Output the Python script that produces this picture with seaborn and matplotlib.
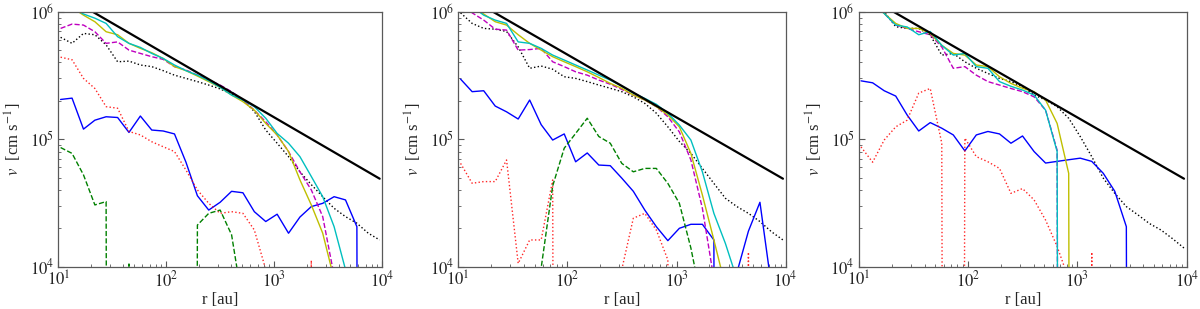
import numpy as np
import pandas as pd
import matplotlib
matplotlib.use("Agg")
import matplotlib.pyplot as plt
import seaborn as sns

sns.set_style("ticks")
plt.rcParams['font.family'] = ['Liberation Serif', 'DejaVu Serif']
plt.rcParams['mathtext.fontset'] = 'stix'

OFF = 1e-30  # value that lies far below the axis (line drops out)

r_au = [10.5, 13.4, 17.1, 21.8, 27.7, 35.4, 45.1, 57.5, 73.3, 93.5, 119, 152, 194, 247,
        315, 402, 512, 653, 833, 1062, 1354, 1726, 2200, 2806, 3577, 4560, 5814, 7413, 9450]

# reference power law (endpoints)
r_pl = [10.5, 9450]
v_pl = [1.4e6, 4.9e4]

# ---------------- panel 1 ----------------
p1_black_dot = [6.3e5, 5.65e5, 6.76e5, 6.6e5, 5.5e5, 4.05e5, 4.1e5, 3.82e5, 3.71e5, 3.45e5, 3.18e5,
                3.0e5, 2.83e5, 2.66e5, 2.48e5, 2.26e5, 2.03e5, 1.65e5, 1.18e5, 9.3e4, 7.3e4, 5.55e4,
                4.4e4, 3.54e4, 2.87e4, 2.47e4, 2.19e4, 1.83e4, 1.62e4]
p1_blue = [2.05e5, 2.1e5, 1.2e5, 1.41e5, 1.5e5, 1.48e5, 1.13e5, 1.52e5, 1.18e5, 1.16e5, 1.1e5, 6.6e4,
           3.6e4, 2.78e4, 3.2e4, 3.9e4, 3.8e4, 2.7e4, 2.26e4, 2.58e4, 1.83e4, 2.45e4, 2.96e4, 3.14e4,
           3.54e4, 3.34e4, 2.06e4, OFF]
p1_red = [4.4e5, 4.2e5, 3.0e5, 2.5e5, 1.8e5, 1.75e5, 1.15e5, 1.08e5, 9.55e4, 8.73e4, 8.0e4, 5.73e4,
          4.0e4, 3.14e4, 2.62e4, 2.7e4, 2.62e4, 1.94e4, 9.5e3, OFF, OFF, OFF, 1.12e4, OFF]
p1_green = [8.6e4, 7.74e4, 5.25e4, 3.05e4, 3.24e4, OFF, 1.05e4, OFF, OFF, OFF, OFF, OFF, 2.12e4,
            2.62e4, 2.78e4, 1.78e4, 5e3]
p1_mag = [7.4e5, 8.0e5, 7.86e5, 6.97e5, 5.65e5, 5.8e5, 5.0e5, 4.71e5, 4.44e5, 4.23e5, 3.71e5, 3.49e5,
          3.18e5, 2.91e5, 2.66e5, 2.36e5, 2.03e5, 1.69e5, 1.37e5, 1.08e5, 8.0e4, 5.55e4, 4.0e4,
          2.47e4, 8.5e3]
p1_yel = [1.35e6, 1.08e6, 9.4e5, 8.35e5, 6.97e5, 6.6e5, 5.65e5, 5.16e5, 4.77e5, 4.3e5, 3.71e5, 3.45e5,
          3.13e5, 2.83e5, 2.55e5, 2.22e5, 1.97e5, 1.69e5, 1.33e5, 1.08e5, 8.0e4, 4.8e4, 3.05e4,
          1.83e4, 8e3]
p1_cyan = [1.3e6, 1.08e6, 9.6e5, 8.9e5, 8.1e5, 6.37e5, 5.65e5, 5.25e5, 4.71e5, 4.3e5, 3.82e5, 3.45e5,
           3.18e5, 2.88e5, 2.55e5, 2.22e5, 2.03e5, 1.8e5, 1.46e5, 1.11e5, 9.3e4, 7.3e4, 5.1e4, 3.54e4,
           2.06e4, 9.5e3]

# ---------------- panel 2 ----------------
p2_black_dot = [9.8e5, 8.1e5, 7.4e5, 7.3e5, 7.0e5, 5.3e5, 3.6e5, 3.75e5, 3.54e5, 3.09e5, 3.0e5, 2.83e5,
                2.66e5, 2.51e5, 2.36e5, 2.15e5, 1.91e5, 1.6e5, 1.25e5, 9.6e4, 7.74e4, 5.9e4, 4.5e4,
                3.44e4, 2.96e4, 2.62e4, 2.26e4, 1.88e4, 1.62e4]
p2_blue = [2.96e5, 2.36e5, 2.4e5, 1.82e5, 1.64e5, 1.44e5, 2.03e5, 1.3e5, 9.85e4, 1.1e5, 6.65e4, 7.8e4,
           6.27e4, 6.2e4, 4.95e4, 3.9e4, 2.78e4, 2.06e4, 1.6e4, 2.0e4, 2.15e4, 2.15e4, 1.62e4, OFF,
           9e3, 1.9e4, 3.2e4, 7e3]
p2_red = [6.46e4, 4.51e4, 4.65e4, 4.65e4, 6.87e4, 1.06e4, 1.62e4, 1.62e4, 4.79e4, OFF, OFF, OFF, OFF,
          OFF, 9.5e3, 2.4e4, 2.62e4, 1.94e4, 1.13e4, OFF, OFF, OFF, OFF, OFF, OFF, 1.3e4, OFF]
p2_green = [OFF, OFF, OFF, OFF, OFF, OFF, OFF, 9.8e3, 4.3e4, 8.5e4, 1.11e5, 1.46e5, 1.05e5, 9.3e4,
            6.46e4, 5.55e4, 5.9e4, 5.9e4, 4.5e4, 3.14e4, 1.4e4, 5e3]
p2_mag = [1.4e6, 9.8e5, 8.6e5, 7.3e5, 7.18e5, 5.0e5, 5.05e5, 5.16e5, 4.05e5, 3.71e5, 3.38e5, 3.18e5,
          2.91e5, 2.7e5, 2.46e5, 2.22e5, 2.03e5, 1.8e5, 1.5e5, 1.14e5, 6.87e4, 2.87e4, 8e3]
p2_yel = [1.35e6, 1.1e6, 9.6e5, 8.35e5, 7.86e5, 6.6e5, 5.65e5, 5.0e5, 4.44e5, 4.05e5, 3.71e5, 3.38e5,
          3.05e5, 2.74e5, 2.51e5, 2.22e5, 2.03e5, 1.8e5, 1.55e5, 1.25e5, 7.74e4, 3.65e4, 1.62e4, 7e3]
p2_cyan = [1.35e6, 1.1e6, 9.4e5, 8.6e5, 8.1e5, 5.8e5, 5.65e5, 5.16e5, 4.57e5, 4.18e5, 3.82e5, 3.49e5,
           3.18e5, 2.91e5, 2.61e5, 2.3e5, 2.09e5, 1.88e5, 1.6e5, 1.29e5, 9.85e4, 5.55e4, 2.62e4,
           1.52e4, 8e3]

# ---------------- panel 3 ----------------
p3_black_dot = [1.5e6, 1.15e6, 1.0e6, 7.63e5, 7.4e5, 7.4e5, 6.56e5, 4.57e5, 4.71e5, 4.05e5, 3.6e5,
                3.28e5, 3.0e5, 2.83e5, 2.58e5, 2.22e5, 2.03e5, 1.8e5, 1.46e5, 1.05e5, 7.3e4, 4.95e4,
                3.76e4, 2.96e4, 2.55e4, 2.18e4, 1.94e4, 1.66e4, 1.4e4]
p3_blue = [2.87e5, 2.77e5, 2.4e5, 2.18e5, 1.55e5, 1.16e5, 1.35e5, 1.22e5, 1.08e5, 8.1e4, 1.08e5,
           1.15e5, 1.1e5, 9.3e4, 1.06e5, 8.0e4, 6.5e4, 6.7e4, 6.9e4, 7.1e4, 6.7e4, 5.4e4, 3.9e4,
           2.06e4, OFF]
p3_red = [8.7e4, 6.6e4, 9.85e4, 1.25e5, 1.41e5, 2.3e5, 2.5e5, 9.3e4, OFF, 1.02e5, 7.3e4, 6.65e4,
          5.9e4, 3.76e4, 4.1e4, 3.34e4, 2.32e4, 1.44e4, 8e3, OFF, 1.3e4, OFF]
p3_mag = [1.5e6, 1.15e6, 9.7e5, 7.86e5, 7.4e5, 6.97e5, 6.6e5, 5.3e5, 3.6e5, 3.71e5, 3.18e5, 2.83e5,
          2.66e5, 2.5e5, 2.36e5, 2.15e5, 1.69e5, 8.2e4, OFF]
p3_cyan = [1.5e6, 1.15e6, 9.7e5, 7.86e5, 7.6e5, 6.6e5, 7.0e5, 5.45e5, 4.57e5, 4.71e5, 3.71e5, 3.6e5,
           2.83e5, 2.6e5, 2.43e5, 2.22e5, 1.69e5, 8.0e4, OFF]
p3_yel = [1.5e6, 1.15e6, 9.7e5, 8.1e5, 7.4e5, 7.4e5, 6.76e5, 5.45e5, 4.71e5, 4.57e5, 3.82e5, 3.71e5,
          3.09e5, 2.74e5, 2.51e5, 2.36e5, 2.03e5, 1.33e5, 5.4e4, OFF]

x_ticks = [1e1, 1e2, 1e3, 1e4]
x_ticklabels = [r'$10^{1}$', r'$10^{2}$', r'$10^{3}$', r'$10^{4}$']
y_ticks = [1e4, 1e5, 1e6]
y_ticklabels = [r'$10^{4}$', r'$10^{5}$', r'$10^{6}$']

styles = {
    'black_dot': dict(color='k', linestyle=':', lw=1.0),
    'blue': dict(color='b', linestyle='-', lw=1.0),
    'red': dict(color='r', linestyle=':', lw=1.0, alpha=0.85),
    'green': dict(color='g', linestyle='--', lw=1.0),
    'mag': dict(color='m', linestyle='--', lw=1.0),
    'yel': dict(color='y', linestyle='-', lw=1.0),
    'cyan': dict(color='c', linestyle='-', lw=1.0),
}

panels = [
    {'black_dot': p1_black_dot, 'blue': p1_blue, 'red': p1_red, 'green': p1_green,
     'mag': p1_mag, 'yel': p1_yel, 'cyan': p1_cyan},
    {'black_dot': p2_black_dot, 'blue': p2_blue, 'red': p2_red, 'green': p2_green,
     'mag': p2_mag, 'yel': p2_yel, 'cyan': p2_cyan},
    {'black_dot': p3_black_dot, 'blue': p3_blue, 'red': p3_red,
     'mag': p3_mag, 'yel': p3_yel, 'cyan': p3_cyan},
]

fig = plt.figure(figsize=(12, 3.09), dpi=100)
rects = [[0.0486, 0.137, 0.270, 0.825],
         [0.3819, 0.137, 0.2728, 0.825],
         [0.7156, 0.137, 0.2733, 0.825]]

spine_col = '0.35'
for rect, series in zip(rects, panels):
    ax = fig.add_axes(rect)
    ax.set_xscale('log')
    ax.set_yscale('log')
    for name in ['black_dot', 'blue', 'red', 'green', 'mag', 'yel', 'cyan']:
        if name not in series:
            continue
        vals = series[name]
        df = pd.DataFrame({'r': r_au[:len(vals)], 'v': vals})
        sns.lineplot(data=df, x='r', y='v', ax=ax, estimator=None, sort=False,
                     **styles[name])
    dfpl = pd.DataFrame({'r': r_pl, 'v': v_pl})
    sns.lineplot(data=dfpl, x='r', y='v', ax=ax, color='k', lw=1.6, estimator=None, sort=False)
    ax.set_xlim(10, 1e4)
    ax.set_ylim(1e4, 1e6)
    ax.set_xticks(x_ticks)
    ax.set_xticklabels(x_ticklabels)
    ax.set_yticks(y_ticks)
    ax.set_yticklabels(y_ticklabels)
    ax.tick_params(which='both', direction='in', color=spine_col, labelsize=12,
                   top=False, right=False)
    ax.tick_params(which='major', length=4)
    ax.tick_params(which='minor', length=2.5)
    ax.tick_params(axis='x', pad=3)
    ax.tick_params(axis='y', pad=3)
    for s in ax.spines.values():
        s.set_color(spine_col)
        s.set_linewidth(0.9)
    ax.set_xlabel('r [au]', fontsize=12, labelpad=1)
    ax.set_ylabel(r'$v$  [cm s$^{-1}$]', fontsize=12, labelpad=4)

fig.savefig('out.png', dpi=100)
